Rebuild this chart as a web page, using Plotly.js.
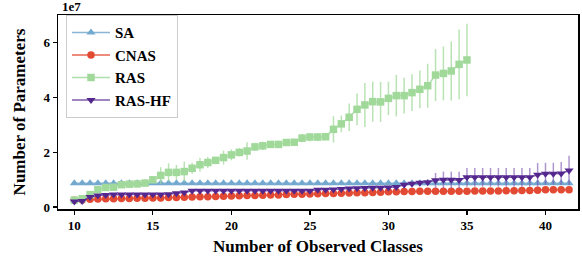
<!DOCTYPE html>
<html>
<head>
<meta charset="utf-8">
<script src="https://cdn.plot.ly/plotly-3.0.1.min.js"></script>
<style>html,body{margin:0;padding:0;background:#fff;}#chart{width:582px;height:268px;}</style>
</head>
<body>
<div id="chart"></div>
<script>
// x values: number of observed classes
const xAll = [10,10.5,11,11.5,12,12.5,13,13.5,14,14.5,15,15.5,16,16.5,17,17.5,18,18.5,19,19.5,20,20.5,21,21.5,22,22.5,23,23.5,24,24.5,25,25.5,26,26.5,27,27.5,28,28.5,29,29.5,30,30.5,31,31.5,32,32.5,33,33.5,34,34.5,35,35.5,36,36.5,37,37.5,38,38.5,39,39.5,40,40.5,41,41.5];
const xRAS = [10,10.5,11,11.5,12,12.5,13,13.5,14,14.5,15,15.5,16,16.5,17,17.5,18,18.5,19,19.5,20,20.5,21,21.5,22,22.5,23,23.5,24,24.5,25,25.5,26,26.5,27,27.5,28,28.5,29,29.5,30,30.5,31,31.5,32,32.5,33,33.5,34,34.5,35];

// values in units of 1e7 parameters
const saVals = [0.86,0.86,0.86,0.86,0.86,0.86,0.86,0.86,0.86,0.86,0.86,0.86,0.86,0.86,0.86,0.86,0.86,0.86,0.86,0.86,0.86,0.86,0.86,0.86,0.86,0.86,0.86,0.86,0.86,0.86,0.86,0.86,0.86,0.86,0.86,0.86,0.86,0.86,0.86,0.86,0.86,0.86,0.86,0.86,0.86,0.86,0.86,0.86,0.86,0.86,0.86,0.86,0.86,0.86,0.86,0.86,0.86,0.86,0.86,0.86,0.86,0.86,0.86,0.86];
const saErr  = [0.01,0.01,0.01,0.01,0.01,0.01,0.01,0.01,0.01,0.01,0.01,0.01,0.01,0.01,0.01,0.01,0.01,0.01,0.01,0.01,0.01,0.01,0.01,0.01,0.01,0.01,0.01,0.01,0.01,0.01,0.01,0.01,0.01,0.01,0.01,0.01,0.01,0.01,0.01,0.01,0.01,0.01,0.01,0.01,0.01,0.01,0.01,0.01,0.01,0.01,0.01,0.01,0.01,0.01,0.01,0.01,0.01,0.01,0.01,0.01,0.01,0.01,0.01,0.01];

const cnasVals = [0.24,0.25,0.28,0.29,0.30,0.30,0.31,0.31,0.32,0.32,0.33,0.33,0.34,0.34,0.35,0.36,0.37,0.37,0.38,0.39,0.40,0.41,0.42,0.42,0.43,0.44,0.44,0.45,0.46,0.46,0.47,0.48,0.49,0.49,0.50,0.51,0.52,0.52,0.53,0.54,0.55,0.55,0.56,0.56,0.57,0.57,0.57,0.57,0.57,0.57,0.57,0.58,0.58,0.58,0.58,0.59,0.59,0.60,0.60,0.61,0.63,0.63,0.63,0.63];
const cnasErr  = [0.02,0.02,0.02,0.02,0.02,0.02,0.02,0.02,0.02,0.02,0.02,0.02,0.02,0.02,0.02,0.02,0.02,0.02,0.02,0.02,0.02,0.02,0.02,0.02,0.02,0.02,0.02,0.02,0.02,0.02,0.02,0.02,0.02,0.02,0.02,0.02,0.02,0.02,0.02,0.02,0.02,0.02,0.02,0.02,0.02,0.02,0.02,0.02,0.02,0.02,0.02,0.02,0.02,0.02,0.02,0.02,0.02,0.02,0.02,0.02,0.02,0.02,0.02,0.02];

const rasVals = [0.25,0.30,0.45,0.63,0.71,0.72,0.81,0.83,0.84,0.87,0.99,1.15,1.26,1.26,1.29,1.41,1.54,1.62,1.70,1.80,1.90,1.99,2.04,2.19,2.23,2.28,2.28,2.35,2.36,2.51,2.55,2.55,2.56,2.83,3.03,3.27,3.56,3.72,3.84,3.83,3.96,4.06,4.06,4.17,4.29,4.42,4.81,4.87,4.96,5.20,5.36];
const rasErr  = [0.05,0.05,0.05,0.06,0.06,0.06,0.06,0.06,0.06,0.06,0.10,0.30,0.33,0.27,0.36,0.20,0.25,0.20,0.10,0.25,0.20,0.15,0.32,0.15,0.15,0.10,0.08,0.10,0.08,0.15,0.15,0.15,0.10,0.48,0.30,0.50,0.58,0.80,0.73,0.73,0.61,0.76,0.65,0.67,0.69,0.80,0.95,0.98,1.08,1.27,1.32];

const hfVals = [0.20,0.22,0.36,0.42,0.44,0.45,0.45,0.45,0.45,0.45,0.45,0.45,0.46,0.50,0.53,0.59,0.59,0.59,0.59,0.59,0.59,0.59,0.59,0.59,0.59,0.59,0.59,0.59,0.59,0.59,0.59,0.63,0.63,0.64,0.65,0.67,0.68,0.69,0.70,0.70,0.71,0.73,0.81,0.85,0.88,0.90,0.97,0.99,0.99,0.98,1.08,1.08,1.08,1.08,1.08,1.08,1.08,1.08,1.08,1.17,1.21,1.21,1.22,1.33];
const hfErr  = [0.03,0.03,0.03,0.03,0.03,0.03,0.03,0.03,0.03,0.03,0.03,0.03,0.03,0.04,0.04,0.04,0.04,0.04,0.04,0.04,0.04,0.04,0.04,0.04,0.04,0.04,0.05,0.05,0.05,0.05,0.05,0.05,0.05,0.05,0.05,0.05,0.05,0.05,0.05,0.05,0.05,0.05,0.08,0.08,0.10,0.12,0.27,0.30,0.30,0.30,0.34,0.34,0.34,0.34,0.34,0.34,0.34,0.34,0.34,0.43,0.40,0.40,0.42,0.54];

const yTickVals = [0,2,4,6];
const yTickText = ['0','2','4','6'];
const xTickVals = [10,15,20,25,30,35,40];

const FONT = '"Liberation Serif", "Times New Roman", serif';

function series(name, x, y, err, color, lineColor, errColor, symbol, size) {
  return {
    type: 'scatter', mode: 'lines+markers', name: name, x: x, y: y,
    line: {color: lineColor, width: 1.5},
    marker: {color: color, symbol: symbol, size: size},
    error_y: {type: 'data', array: err, visible: true, color: errColor, thickness: 1.5, width: 0}
  };
}

const traces = [
  series('SA', xAll, saVals, saErr, '#74a9cf', 'rgba(116,169,207,0.85)', 'rgba(116,169,207,0.5)', 'triangle-up', 8),
  series('CNAS', xAll, cnasVals, cnasErr, '#e34a33', 'rgba(227,74,51,0.85)', 'rgba(227,74,51,0.5)', 'circle', 7.5),
  series('RAS', xRAS, rasVals, rasErr, '#a1d99b', 'rgba(161,217,155,0.85)', 'rgba(161,217,155,0.75)', 'square', 7.5),
  series('RAS-HF', xAll, hfVals, hfErr, '#54278f', 'rgba(84,39,143,0.75)', 'rgba(120,80,175,0.6)', 'triangle-down', 8)
];

const layout = {
  width: 582, height: 268,
  margin: {l: 58, r: 4, t: 15, b: 59},
  paper_bgcolor: '#fff', plot_bgcolor: '#fff',
  font: {family: FONT, color: '#000', size: 12},
  showlegend: true,
  legend: {
    x: 0.015, y: 1.0, xanchor: 'left', yanchor: 'top',
    bgcolor: 'rgba(255,255,255,0.8)', bordercolor: '#cccccc', borderwidth: 1.2,
    font: {family: FONT, size: 15, color: '#000', weight: 'bold'},
    itemwidth: 38, tracegroupgap: 0
  },
  xaxis: {
    range: [8.96, 42.07], tickvals: xTickVals,
    showgrid: false, zeroline: false,
    showline: true, linecolor: '#000', linewidth: 1.5, mirror: true,
    ticks: 'outside', ticklen: 4, tickwidth: 1.2, tickcolor: '#000',
    tickfont: {family: FONT, size: 13, weight: 'bold'},
    title: {text: '<b>Number of Observed Classes</b>', font: {family: FONT, size: 17}, standoff: 8}
  },
  yaxis: {
    range: [-0.075, 7.0], tickvals: yTickVals, ticktext: yTickText,
    showgrid: false, zeroline: false,
    showline: true, linecolor: '#000', linewidth: 1.5, mirror: true,
    ticks: 'outside', ticklen: 4, tickwidth: 1.2, tickcolor: '#000',
    tickfont: {family: FONT, size: 13, weight: 'bold'},
    title: {text: '<b>Number of Parameters</b>', font: {family: FONT, size: 17}, standoff: 13}
  },
  annotations: [{
    xref: 'paper', yref: 'paper', x: 0, y: 1, xanchor: 'left', yanchor: 'bottom',
    xshift: 2, yshift: -1,
    text: '<b>1e7</b>', showarrow: false, font: {family: FONT, size: 13, color: '#000'}
  }]
};

Plotly.newPlot('chart', traces, layout, {displayModeBar: false, staticPlot: true});
</script>
</body>
</html>
